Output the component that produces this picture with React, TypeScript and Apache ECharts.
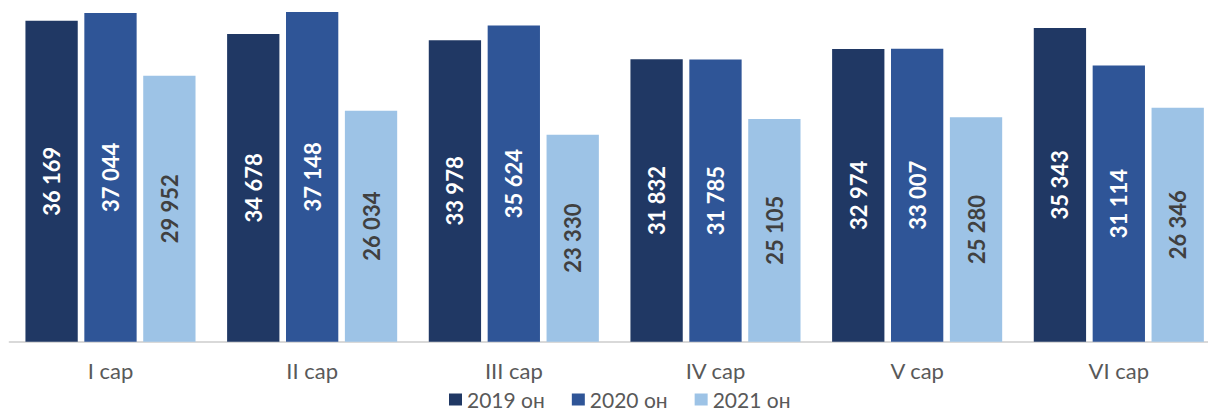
import React, { useEffect, useRef } from "react";
import * as echarts from "echarts";

const categories = ["I сар", "II сар", "III сар", "IV сар", "V сар", "VI сар"];
const seriesNames = ["2019 он", "2020 он", "2021 он"];
const values2019 = [36169, 34678, 33978, 31832, 32974, 35343];
const values2020 = [37044, 37148, 35624, 31785, 33007, 31114];
const values2021 = [29952, 26034, 23330, 25105, 25280, 26346];
const colors = ["#203864", "#2F5597", "#9DC3E6"];
const labelColors = ["#FFFFFF", "#FFFFFF", "#404040"];

const fmt = (v: number) => String(v).replace(/\B(?=(\d{3})+(?!\d))/g, " ");

export default function App() {
  const ref = useRef<HTMLDivElement>(null);
  useEffect(() => {
    if (!ref.current) return;
    const chart = echarts.init(ref.current, null, { renderer: "svg" });
    const data = [values2019, values2020, values2021];
    chart.setOption({
      animation: false,
      grid: { left: 9.65, top: 0, width: 1210, bottom: 70.3, containLabel: false },
      xAxis: {
        type: "category",
        data: categories,
        axisLine: { lineStyle: { color: "#D9D9D9", width: 2 } },
        axisTick: { show: false },
        axisLabel: { color: "#595959", fontFamily: "Lato", fontSize: 22, margin: 18 },
      },
      yAxis: { type: "value", min: 0, max: 38500, show: false, splitLine: { show: false } },
      legend: {
        left: 449,
        top: 389,
        padding: 0,
        itemWidth: 13,
        itemHeight: 12,
        itemGap: 27,
        icon: "rect",
        textStyle: { color: "#595959", fontFamily: "Lato", fontSize: 21, lineHeight: 20 },
        data: seriesNames,
      },
      series: seriesNames.map((name, i) => ({
        name,
        type: "bar",
        data: data[i],
        barWidth: 52.3,
        barGap: "12.6%",
        itemStyle: { color: colors[i] },
        label: {
          show: true,
          position: "inside",
          rotate: 90,
          formatter: (p: any) => fmt(p.value),
          color: labelColors[i],
          fontFamily: "Lato",
          fontWeight: "bold",
          fontSize: 22,
        },
      })),
    });
    return () => chart.dispose();
  }, []);
  return (
    <div style={{ position: "fixed", left: 0, top: 0, width: 1208, height: 412, overflow: "hidden", background: "#fff" }}>
      <div ref={ref} style={{ width: 1220, height: 412 }} />
    </div>
  );
}
